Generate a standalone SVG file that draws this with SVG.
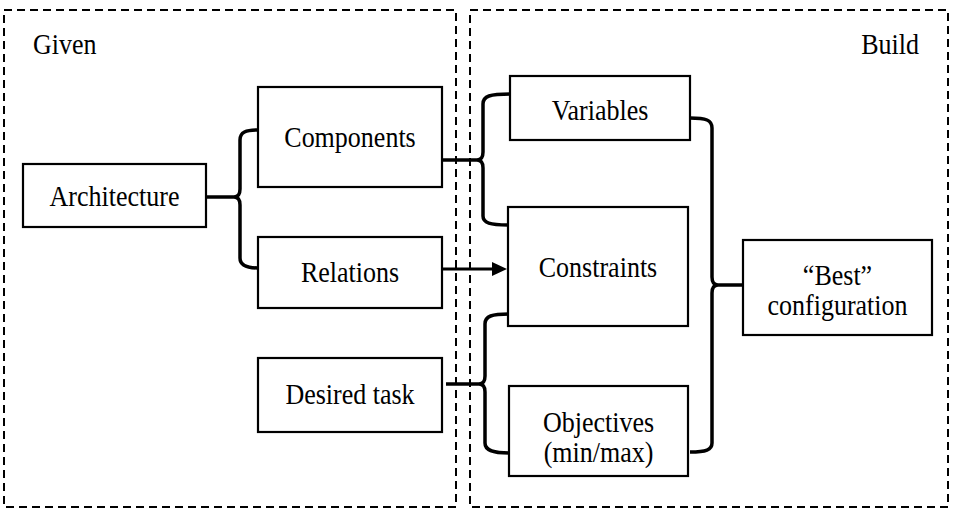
<svg xmlns="http://www.w3.org/2000/svg" width="953" height="513" viewBox="0 0 953 513">
  <style>
    .region { fill: none; stroke: #000; stroke-width: 2; stroke-dasharray: 8 5; }
    .box { fill: #fff; stroke: #000; stroke-width: 2.2; }
    .brace { fill: none; stroke: #000; stroke-width: 3.5; stroke-linejoin: round; }
    .arrow { fill: none; stroke: #000; stroke-width: 3; }
    .c { text-anchor: middle; }
  </style>

  <!-- dashed regions -->
  <g id="regions">
    <rect class="region" x="4" y="10" width="452" height="497"/>
    <rect class="region" x="470" y="10" width="478" height="497"/>
  </g>

  <!-- connectors: curly braces and arrow -->
  <g id="connectors">
    <path class="brace" d="M206,197 L234,197 M258,130 C246,130 240,132 240,140 L240,189 C240,194 238,197 234,197 C238,197 240,200 240,205 L240,258 C240,265 246,268 258,268"/>
    <path class="brace" d="M442,160 L477,160 M510,94 C490,94 483,96 483,104 L483,152 C483,157 481,160 477,160 C481,160 483,163 483,168 L483,216 C483,223 490,225 508,225"/>
    <path class="brace" d="M446,384 L479,384 M509,314 C492,314 485,316 485,324 L485,376 C485,381 483,384 479,384 C483,384 485,387 485,392 L485,443 C485,450 492,453 509,453"/>
    <path class="brace" d="M743,285 L718,285 M690,118 C706,118 712,120 712,128 L712,277 C712,282 714,285 718,285 C714,285 712,288 712,293 L712,443 C712,450 706,452 690,452"/>
    <line class="arrow" x1="442" y1="269" x2="494" y2="269"/>
    <polygon points="492,262 507,269 492,276" fill="#000"/>
  </g>

  <g font-family="'Liberation Serif', 'Times New Roman', Times, 'DejaVu Serif', serif" font-size="26" fill="#000">
    <g id="labels">
      <text transform="translate(33,54) scale(1,1.1)">Given</text>
      <text transform="translate(919,54) scale(1,1.1)" text-anchor="end">Build</text>
    </g>
    <g id="architecture">
      <rect class="box" x="23" y="164" width="183" height="63"/>
      <text class="c" transform="translate(114.5,205.5) scale(1,1.1)">Architecture</text>
    </g>
    <g id="components">
      <rect class="box" x="258" y="87" width="184" height="100"/>
      <text class="c" transform="translate(350,146.5) scale(1,1.1)">Components</text>
    </g>
    <g id="relations">
      <rect class="box" x="258" y="237" width="184" height="71"/>
      <text class="c" transform="translate(350,281.5) scale(1,1.1)">Relations</text>
    </g>
    <g id="desired-task">
      <rect class="box" x="258" y="358" width="184" height="74"/>
      <text class="c" transform="translate(350,404) scale(1,1.1)">Desired task</text>
    </g>
    <g id="variables">
      <rect class="box" x="510" y="76" width="180" height="64"/>
      <text class="c" transform="translate(600,119.5) scale(1,1.1)">Variables</text>
    </g>
    <g id="constraints">
      <rect class="box" x="508" y="207" width="180" height="119"/>
      <text class="c" transform="translate(598,276.5) scale(1,1.1)">Constraints</text>
    </g>
    <g id="objectives">
      <rect class="box" x="509" y="386" width="179" height="90"/>
      <text class="c" transform="translate(598.5,431.5) scale(1,1.1)">Objectives</text>
      <text class="c" transform="translate(598.5,461.5) scale(1,1.1)">(min/max)</text>
    </g>
    <g id="best-configuration">
      <rect class="box" x="743" y="240" width="189" height="95"/>
      <text class="c" transform="translate(837.5,284.5) scale(1,1.1)">“Best”</text>
      <text class="c" transform="translate(837.5,315) scale(1,1.1)">configuration</text>
    </g>
  </g>
</svg>
